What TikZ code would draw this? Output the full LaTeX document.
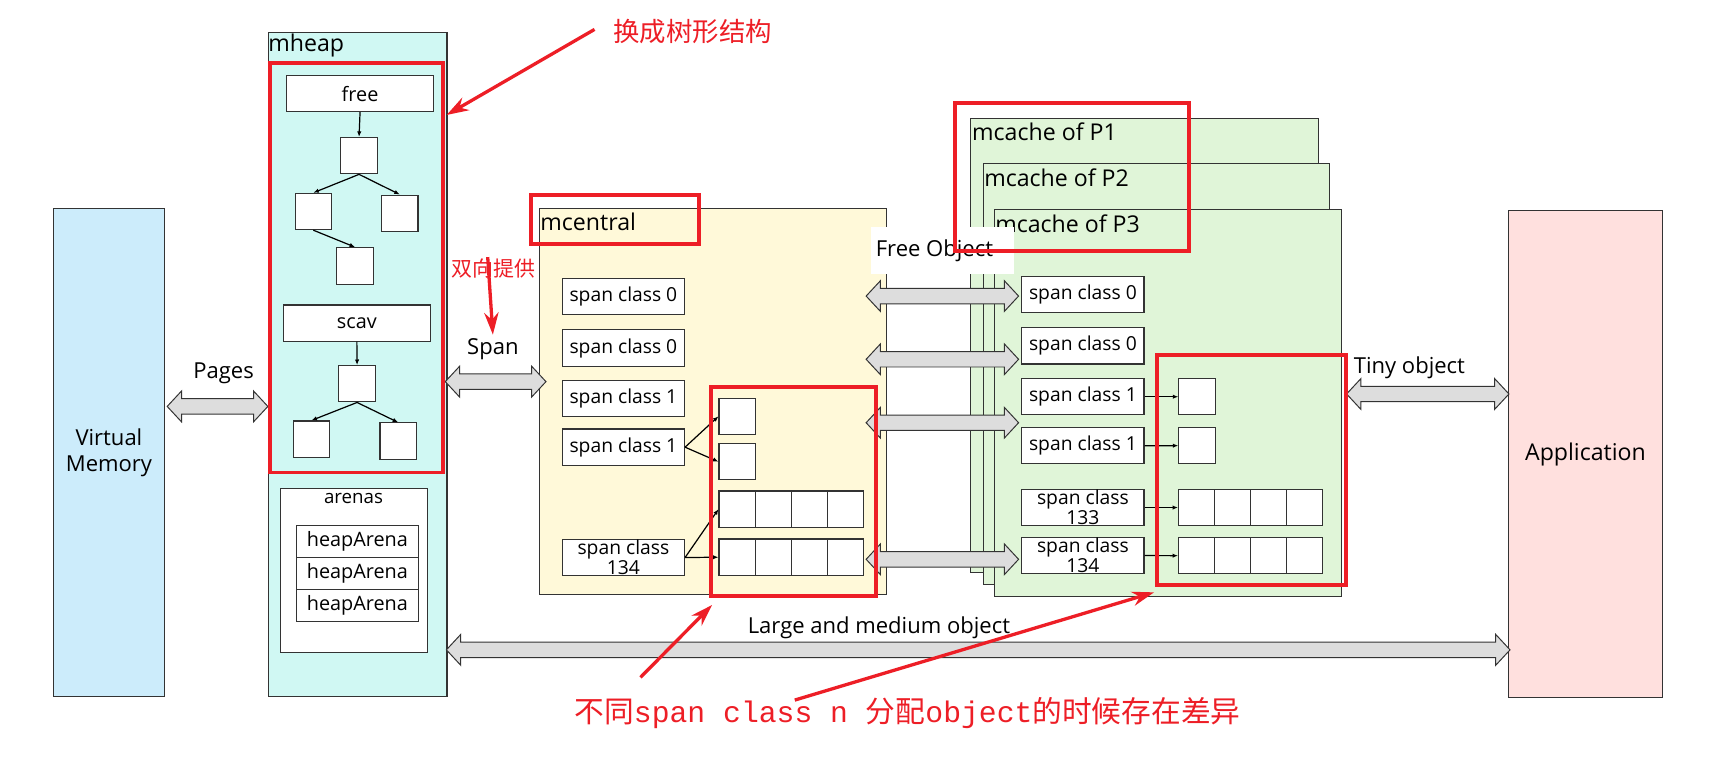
\documentclass[tikz,border=0pt]{standalone}
\usepackage{fontspec}
\setmainfont{Open Sans}
\newfontfamily\cjk{Noto Sans CJK SC}
\newfontfamily\mono{Liberation Mono}
\usetikzlibrary{arrows.meta,calc}

\definecolor{vmblue}{RGB}{204,236,251}
\definecolor{heapcyan}{RGB}{208,248,243}
\definecolor{centralyellow}{RGB}{255,249,217}
\definecolor{cachegreen}{RGB}{224,245,216}
\definecolor{apppink}{RGB}{255,224,222}
\definecolor{markred}{RGB}{237,30,38}
\definecolor{arrowgray}{RGB}{221,221,221}

% fat hollow double arrow, horizontal, from #1 to #2
\newcommand\fatarr[2]{%
  \path[fatarrow] let \p1=(#1), \p2=(#2) in
    (\x1,\y1) -- (\x1+13pt,\y1+14pt) -- (\x1+13pt,\y1+7pt) -- (\x2-13pt,\y1+7pt)
    -- (\x2-13pt,\y1+14pt) -- (\x2,\y1) -- (\x2-13pt,\y1-14pt) -- (\x2-13pt,\y1-7pt)
    -- (\x1+13pt,\y1-7pt) -- (\x1+13pt,\y1-14pt) -- cycle;}

\begin{document}
\begin{tikzpicture}[x=1pt,y=-1pt,
    box/.style={draw=black!80,line width=1pt,inner sep=0pt},
    bigbox/.style={box,anchor=north west},
    spanbox/.style={box,fill=white,minimum width=111pt,minimum height=33pt,align=center,font=\fontsize{17.5}{18}\selectfont},
    listbox/.style={box,fill=white,minimum width=133pt,minimum height=32.7pt,font=\fontsize{18}{20}\selectfont},
    arenabox/.style={box,fill=white,minimum width=111pt,minimum height=29pt,font=\fontsize{18}{20}\selectfont},
    cell/.style={box,fill=white,minimum width=33pt,minimum height=33pt},
    link/.style={line width=1.1pt,-{Latex[length=5pt,width=4pt]}},
    title/.style={anchor=west,inner sep=1pt,font=\fontsize{21}{24}\selectfont},
    lbl/.style={font=\fontsize{20}{24}\selectfont},
    redbox/.style={draw=markred,line width=3.5pt},
    redarrow/.style={markred,line width=3pt,-{Stealth[length=20pt,width=13pt]}},
    rednote/.style={text=markred,inner sep=0pt},
    fatarrow/.style={draw=black!80,line width=0.9pt,fill=arrowgray}]
  \useasboundingbox (0,0) rectangle (1568,705);

  % virtual memory and mheap
  \node[bigbox,fill=vmblue,minimum width=100.8pt,minimum height=442.4pt,align=center,
        font=\fontsize{20}{24}\selectfont] (vm) at (48,189.2) {Virtual\\Memory};
  \node[bigbox,fill=heapcyan,minimum width=162.1pt,minimum height=602.2pt] (mheap) at (243.2,29.4) {};
  \node[title] (mheaplbl) at (242.5,41) {mheap};

  \node[listbox] (free) at (326.9,85) {free};
  \node[cell] (t1) at (326,141.3) {};
  \node[cell] (t2) at (284.5,192) {};
  \node[cell] (t3) at (363,193.6) {};
  \node[cell] (t4) at (322.4,241.4) {};
  \draw[link] (free.south) -- (t1.north);
  \draw[link] (t1.south) -- (t2.north);
  \draw[link] (t1.south) -- (t3.north);
  \draw[link] (t2.south) -- (t4.north);

  \node[listbox] (scav) at (324,293.3) {scav};
  \node[cell] (s1) at (324.2,348.4) {};
  \node[cell] (s2) at (282.8,398.7) {};
  \node[cell] (s3) at (361.5,400.5) {};
  \draw[link] (scav.south) -- (s1.north);
  \draw[link] (s1.south) -- (s2.north);
  \draw[link] (s1.south) -- (s3.north);

  \node[bigbox,fill=white,minimum width=133.6pt,minimum height=148.9pt] (arenas) at (253.9,442.8) {};
  \node[font=\fontsize{17}{20}\selectfont] (arenaslbl) at (321,453) {arenas};
  \foreach \yy/\i in {491.8/1,520.7/2,549.7/3}
    \node[arenabox] (ha\i) at (324.5,\yy) {heapArena};

  % mcentral
  \node[bigbox,fill=centralyellow,minimum width=314.7pt,minimum height=350.4pt] (mcentral) at (489.7,189.2) {};
  \node[title] (mcentrallbl) at (489.5,201) {mcentral};
  \node[spanbox] (c0) at (566,269) {span class 0};
  \node[spanbox] (c1) at (566,316) {span class 0};
  \node[spanbox] (c2) at (566,362) {span class 1};
  \node[spanbox] (c3) at (566,406) {span class 1};
  \node[spanbox] (c4) at (566,506.2) {span class\\134};
  \node[cell] (q1) at (669.3,378) {};
  \node[cell] (q2) at (669.3,419.2) {};
  \foreach \i in {0,...,3}{
    \node[cell,minimum width=32.75pt] (ra\i) at (669.2+32.75*\i,462.3) {};
    \node[cell,minimum width=32.75pt] (rb\i) at (669.2+32.75*\i,505.9) {};
  }
  \draw[link] (c3.east) -- (q1.west);
  \draw[link] (c3.east) -- (q2.west);
  \draw[link] (c4.east) -- (ra0.west);
  \draw[link] (c4.east) -- (rb0.west);

  % mcache of each P
  \node[bigbox,fill=cachegreen,minimum width=315.6pt,minimum height=411.6pt] (p1) at (881,107.4) {};
  \node[title] (p1lbl) at (881.5,120) {mcache of P1};
  \node[bigbox,fill=cachegreen,minimum width=314.3pt,minimum height=381.7pt] (p2) at (892.4,148.3) {};
  \node[title] (p2lbl) at (892.5,161) {mcache of P2};
  \node[bigbox,fill=cachegreen,minimum width=314.8pt,minimum height=351pt] (p3) at (902.8,189.8) {};
  \node[title] (p3lbl) at (902.5,203) {mcache of P3};

  \node[spanbox] (m0) at (983.2,267.3) {span class 0};
  \node[spanbox] (m1) at (983.2,314) {span class 0};
  \node[spanbox] (m2) at (983.2,360.2) {span class 1};
  \node[spanbox] (m3) at (983.2,404.7) {span class 1};
  \node[spanbox] (m4) at (983.2,460.8) {span class\\133};
  \node[spanbox] (m5) at (983.2,504.4) {span class\\134};
  \node[cell] (mq1) at (1086.8,360.2) {};
  \node[cell] (mq2) at (1086.8,404.6) {};
  \foreach \i in {0,...,3}{
    \node[cell,minimum width=32.7pt] (ma\i) at (1086.4+32.7*\i,460.8) {};
    \node[cell,minimum width=32.7pt] (mb\i) at (1086.4+32.7*\i,504.5) {};
  }
  \draw[link] (m2.east) -- (mq1.west);
  \draw[link] (m3.east) -- (mq2.west);
  \draw[link] (m4.east) -- (ma0.west);
  \draw[link] (m5.east) -- (mb0.west);

  \node[fill=white,anchor=west,inner xsep=4pt,inner ysep=0pt,text width=121pt,align=flush left,
        minimum height=43pt,lbl] (freeobj) at (791,227.5) {Free Object};

  \node[bigbox,fill=apppink,minimum width=140pt,minimum height=442.3pt,
        font=\fontsize{21}{24}\selectfont] (app) at (1369,190.7) {Application};

  % fat arrows
  \coordinate (pagesy) at (0,369);
  \coordinate (spany) at (0,346.5);
  \coordinate (tinyy) at (0,357.7);
  \coordinate (largey) at (0,590);
  \fatarr{$(vm.east |- pagesy)+(2,0)$}{mheap.west |- pagesy}
  \fatarr{$(mheap.east |- spany)+(-2,0)$}{$(mcentral.west |- spany)+(6,0)$}
  \foreach \yy in {268.8,326.2,383.8,507.8}{
    \coordinate (lvl) at (0,\yy);
    \fatarr{$(mcentral.east |- lvl)+(-19,0)$}{$(p3.west |- lvl)+(22,0)$}
  }
  \fatarr{$(p3.east |- tinyy)+(4,0)$}{$(app.west |- tinyy)+(1,0)$}
  \fatarr{$(mheap.east |- largey)+(-1,0)$}{$(app.west |- largey)+(2,0)$}
  \node[lbl] (pageslbl) at (203,339) {Pages};
  \node[lbl] (spanlbl) at (447.5,317) {Span};
  \node[lbl,anchor=west,inner sep=0pt] (tinylbl) at (1229,334) {Tiny object};
  \node[lbl] (largelbl) at (798,570) {Large and medium object};

  % red marks
  \draw[redbox] (245.5,56.9) rectangle (402.1,429);
  \draw[redbox] (481.8,177) rectangle (634.6,221.5);
  \draw[redbox] (645.5,351.7) rectangle (795,540.8);
  \draw[redbox] (867.4,93.2) rectangle (1079.8,227.6);
  \draw[redbox] (1050.6,322.3) rectangle (1221.8,530.8);

  \node[rednote,font=\cjk\fontsize{24}{26}\selectfont] (treenote) at (629,28.7) {换成树形结构};
  \coordinate (treetip) at (405.5,104.4);
  \draw[redarrow] ($(treenote.west)+(-17,-2)$) -- (treetip);

  \node[rednote,font=\cjk\fontsize{19}{22}\selectfont] (bothnote) at (447.8,243.4) {双向提供};
  \draw[redarrow] ($(bothnote.north)+(-5,-1)$) -- (spanlbl.north);

  \node[rednote,font=\cjk\fontsize{27}{30}\selectfont] (diffnote) at (824,647.7)
    {不同{\mono span class n\ }分配{\mono object}的时候存在差异};
  \coordinate (diffsrc1) at (581.5,615);
  \coordinate (diffsrc2) at (721.6,635.6);
  \coordinate (difftip1) at (646.5,549.3);
  \coordinate (difftip2) at (1047.8,537.8);
  \draw[redarrow] (diffsrc1) -- (difftip1);
  \draw[redarrow] (diffsrc2) -- (difftip2);
\end{tikzpicture}
\end{document}
